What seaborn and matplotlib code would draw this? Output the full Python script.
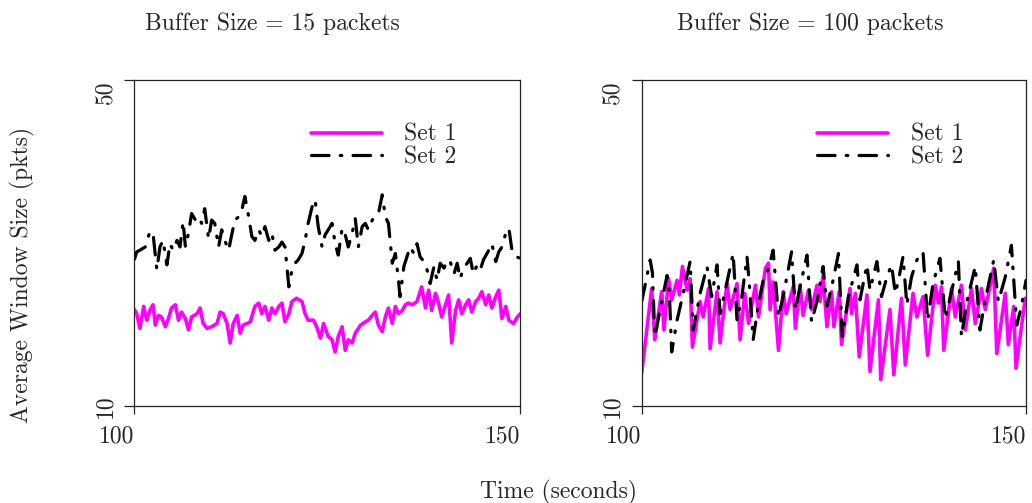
import numpy as np
import pandas as pd
import seaborn as sns
import matplotlib.pyplot as plt

sns.set_style("ticks")
plt.rcParams['font.family'] = ['cmr10', 'DejaVu Serif']
plt.rcParams['mathtext.fontset'] = 'cm'
plt.rcParams['axes.formatter.use_mathtext'] = True

# ---- Buffer size 15 packets ----
t_15_set1 = [100.0, 100.3, 100.7, 101.2, 101.6, 102.0, 102.4, 102.7, 103.1, 103.5, 104.0, 104.4, 104.8,
             105.3, 105.7, 106.1, 106.6, 107.0, 107.4, 108.1, 108.5, 108.9, 109.4, 110.0, 110.7, 111.1,
             111.5, 112.0, 112.4, 112.8, 113.3, 113.7, 114.1, 114.6, 115.0, 115.6, 116.1, 116.5, 116.9,
             117.4, 117.8, 118.2, 118.7, 119.1, 119.5, 120.0, 120.4, 121.0, 121.7, 122.1, 122.5, 123.2,
             123.6, 124.1, 124.5, 125.1, 125.6, 126.0, 126.4, 126.9, 127.3, 127.7, 128.2, 128.6, 129.3,
             129.9, 130.3, 130.8, 131.2, 131.6, 132.1, 132.5, 132.9, 133.4, 133.8, 134.2, 134.7, 135.1,
             135.5, 136.0, 136.6, 137.2, 137.7, 138.1, 138.5, 139.0, 139.4, 139.8, 140.3, 140.7, 141.1,
             141.6, 142.0, 142.4, 142.9, 143.3, 143.7, 144.2, 144.6, 145.0, 145.5, 145.9, 146.3, 146.8,
             147.2, 147.6, 148.1, 148.5, 149.1, 149.6, 150.0]
w_15_set1 = [21.8, 21.3, 19.5, 22.2, 20.5, 21.7, 22.4, 19.9, 21.1, 20.9, 19.7, 20.7, 22.0,
             22.4, 20.5, 21.5, 20.7, 19.3, 20.9, 21.3, 22.0, 20.1, 19.5, 19.7, 20.1, 21.5,
             21.3, 20.1, 17.7, 20.1, 21.1, 18.9, 19.9, 20.1, 20.3, 22.2, 22.6, 21.3, 22.2,
             20.5, 22.0, 21.3, 22.2, 22.6, 20.3, 21.3, 22.8, 23.2, 22.8, 21.3, 20.5, 20.5,
             19.7, 18.3, 20.1, 18.5, 18.1, 16.6, 18.5, 19.7, 16.8, 18.1, 17.7, 18.9, 19.9,
             20.3, 20.5, 21.1, 21.5, 19.9, 19.1, 20.9, 22.0, 20.1, 22.2, 21.3, 21.7, 22.4,
             22.6, 22.4, 22.8, 24.6, 22.0, 24.2, 21.7, 23.8, 22.6, 20.9, 22.4, 23.6, 17.7,
             21.7, 23.0, 21.3, 22.4, 23.0, 21.5, 22.8, 23.2, 24.0, 22.4, 23.6, 22.0, 23.4,
             24.2, 20.7, 22.2, 20.5, 20.1, 20.9, 21.3]

t_15_set2 = [100.0, 100.3, 100.7, 101.4, 102.0, 102.4, 102.9, 103.3, 103.7, 104.2, 104.6, 105.0, 105.5,
             105.9, 106.3, 106.6, 107.0, 107.4, 107.9, 108.3, 108.7, 109.1, 109.6, 110.0, 110.4, 110.9,
             111.3, 111.7, 112.2, 112.6, 113.0, 113.5, 113.9, 114.3, 114.8, 115.2, 115.6, 116.1, 116.5,
             116.9, 117.4, 117.8, 118.2, 118.7, 119.1, 119.5, 120.0, 120.4, 120.8, 121.2, 121.7, 122.1,
             122.5, 123.0, 123.4, 123.8, 124.3, 124.7, 125.1, 125.6, 126.0, 126.4, 126.9, 127.3, 127.7,
             128.2, 128.6, 129.0, 129.5, 129.9, 130.3, 130.8, 131.2, 131.6, 132.1, 132.5, 132.9, 133.4,
             133.8, 134.2, 134.4, 134.9, 135.3, 135.7, 136.2, 136.6, 137.0, 137.5, 137.9, 138.3, 138.8,
             139.2, 139.6, 140.1, 140.5, 140.9, 141.4, 141.8, 142.2, 142.6, 143.1, 143.5, 143.9, 144.4,
             144.8, 145.2, 145.9, 146.3, 146.8, 147.2, 147.6, 148.1, 148.5, 148.9, 149.4, 150.0]
w_15_set2 = [28.0, 28.9, 29.1, 29.5, 31.4, 31.2, 26.7, 29.5, 30.3, 27.3, 29.9, 29.1, 30.3,
             29.5, 32.6, 29.5, 31.2, 33.6, 32.8, 33.2, 32.4, 34.2, 30.5, 32.8, 32.4, 29.5,
             31.6, 30.3, 29.1, 31.0, 32.8, 33.2, 34.0, 35.7, 33.2, 30.8, 30.3, 31.6, 30.8,
             32.0, 30.3, 31.2, 29.1, 29.5, 30.1, 29.5, 24.6, 26.7, 27.5, 27.9, 28.7, 30.3,
             32.4, 34.4, 35.3, 32.0, 29.5, 31.0, 31.6, 32.4, 29.9, 28.5, 31.8, 31.0, 29.5,
             31.2, 33.0, 29.5, 32.0, 32.4, 31.6, 32.8, 33.2, 33.6, 35.9, 33.2, 32.4, 27.5,
             28.7, 25.4, 23.4, 27.1, 28.3, 29.5, 28.7, 29.9, 28.3, 27.7, 26.7, 25.0, 27.1,
             25.4, 27.5, 26.9, 27.9, 27.7, 26.2, 27.5, 25.6, 26.9, 27.5, 28.1, 26.2, 27.3,
             26.7, 27.9, 29.1, 29.9, 27.7, 28.9, 29.5, 31.2, 31.8, 29.1, 28.3, 28.1]

# ---- Buffer size 100 packets ----
t_100_set1 = [100.0, 101.3, 101.7, 102.6, 102.9, 103.5, 103.9, 104.6, 104.9, 105.3, 105.9, 106.3, 106.6,
              107.6, 108.0, 108.7, 108.9, 109.8, 110.2, 111.1, 111.5, 112.4, 112.8, 113.4, 113.9, 114.8,
              115.2, 116.1, 116.5, 116.7, 117.1, 117.8, 118.4, 118.8, 119.7, 120.0, 120.6, 121.0, 121.7,
              122.1, 122.8, 123.2, 123.6, 124.1, 124.7, 125.0, 125.7, 126.0, 127.1, 127.3, 127.8, 128.3,
              129.3, 129.7, 130.8, 131.1, 132.3, 132.8, 133.8, 134.3, 135.3, 135.8, 136.6, 137.2, 138.2,
              138.6, 139.0, 139.3, 140.3, 140.8, 141.6, 142.1, 142.9, 143.4, 144.2, 144.7, 145.8, 146.2,
              147.3, 147.7, 148.4, 148.7, 149.9]
w_100_set1 = [14.0, 24.4, 18.1, 24.0, 19.3, 25.6, 23.0, 25.4, 23.6, 27.1, 24.2, 25.6, 17.2,
              22.8, 20.9, 24.4, 17.0, 24.0, 17.7, 25.0, 21.8, 25.0, 18.1, 23.8, 20.1, 24.8,
              20.9, 26.9, 27.5, 21.8, 25.2, 16.8, 24.0, 21.3, 24.6, 19.5, 24.8, 21.1, 24.2,
              21.8, 24.8, 22.8, 26.0, 19.7, 24.0, 19.7, 24.0, 17.5, 24.4, 21.3, 23.8, 16.0,
              23.6, 14.2, 23.0, 13.2, 21.8, 13.8, 23.2, 15.0, 23.8, 20.9, 23.4, 16.2, 24.8,
              22.6, 24.6, 16.8, 24.4, 20.9, 24.8, 19.3, 24.4, 20.1, 24.4, 21.8, 26.9, 16.4,
              23.8, 17.5, 22.2, 14.6, 23.2]

t_100_set2 = [100.0, 100.4, 101.1, 101.4, 101.7, 102.4, 103.3, 103.6, 103.9, 104.6, 105.4, 106.3, 106.7,
              107.6, 108.5, 109.1, 109.8, 110.2, 111.1, 111.9, 112.4, 113.0, 113.7, 114.0, 114.5, 115.2,
              115.8, 116.5, 117.1, 117.8, 118.4, 119.5, 120.0, 120.6, 121.5, 122.1, 122.8, 123.6, 124.1,
              124.9, 125.6, 126.1, 126.9, 128.0, 128.4, 129.3, 129.7, 130.6, 131.2, 131.9, 132.5, 133.0,
              133.4, 134.0, 134.5, 135.1, 135.8, 136.6, 137.2, 137.9, 138.8, 139.5, 140.3, 141.2, 141.6,
              142.3, 143.4, 144.0, 144.7, 145.8, 146.4, 147.3, 148.1, 148.8, 149.4, 150.0]
w_100_set2 = [22.8, 24.6, 27.9, 26.3, 18.5, 21.8, 26.0, 23.8, 16.6, 20.5, 23.8, 27.7, 19.3,
              23.8, 27.1, 23.4, 27.3, 21.3, 25.2, 28.7, 20.5, 23.2, 28.3, 25.0, 18.1, 22.6,
              25.4, 26.9, 29.1, 20.9, 23.4, 28.9, 21.8, 24.6, 28.5, 20.3, 22.8, 27.1, 22.2,
              25.4, 28.7, 18.5, 23.4, 27.3, 23.0, 27.3, 24.2, 27.7, 23.4, 25.8, 27.3, 23.8,
              25.4, 28.3, 22.4, 25.8, 27.9, 28.9, 20.5, 25.0, 28.1, 20.7, 24.0, 27.7, 18.5,
              22.8, 27.1, 19.3, 23.0, 27.9, 22.8, 25.8, 29.7, 19.9, 22.2, 25.4]

panels = [
    ("Buffer Size = 15 packets", t_15_set1, w_15_set1, t_15_set2, w_15_set2),
    ("Buffer Size = 100 packets", t_100_set1, w_100_set1, t_100_set2, w_100_set2),
]

x_ticks = [100, 150]
y_ticks = [10, 50]
FS = 17

fig = plt.figure(figsize=(10.32, 5.03), dpi=100)
axes_rects = [[0.1303, 0.1934, 0.3740, 0.6475],
              [0.6218, 0.1934, 0.3724, 0.6475]]
title_x = [272 / 1032, 810 / 1032]

for rect, tx, (title, ta, wa, tb, wb) in zip(axes_rects, title_x, panels):
    ax = fig.add_axes(rect)
    df1 = pd.DataFrame({"Time": ta, "Window": wa})
    df2 = pd.DataFrame({"Time": tb, "Window": wb})
    sns.lineplot(data=df1, x="Time", y="Window", ax=ax, color="#ff00ff",
                 lw=2.6, label="Set 1", solid_joinstyle="round")
    sns.lineplot(data=df2, x="Time", y="Window", ax=ax, color="black",
                 lw=2.3, label="Set 2", linestyle=(0, (5.5, 3.5, 0.5, 3.5)),
                 dash_capstyle="round")
    ax.set_xlim(100, 150)
    ax.set_ylim(10, 50)
    ax.set_xticks(x_ticks)
    ax.set_yticks(y_ticks)
    ax.set_xticklabels([str(v) for v in x_ticks], fontsize=FS, ha="right")
    ax.set_yticklabels([str(v) for v in y_ticks], fontsize=FS, rotation=90)
    ylabs = ax.get_yticklabels()
    ylabs[0].set_va("center")
    ylabs[1].set_va("top")
    ax.tick_params(axis="y", length=7, width=0.9, pad=6, direction="out")
    ax.tick_params(axis="x", length=6, width=0.9, pad=8, direction="out")
    ax.set_xlabel("")
    ax.set_ylabel("")
    for s in ax.spines.values():
        s.set_visible(True)
        s.set_linewidth(0.9)
        s.set_color("#222222")
    ax.legend(loc="upper left", bbox_to_anchor=(0.457, 0.866), frameon=False,
              fontsize=FS, handlelength=3.0, handletextpad=0.95,
              labelspacing=0.03, borderpad=0, borderaxespad=0)
    fig.text(tx, 1 - 30 / 503, title, ha="center", va="baseline", fontsize=FS)

fig.text(22 / 1032, 1 - 275 / 503, "Average Window Size (pkts)", rotation=90,
         ha="center", va="center", fontsize=FS)
fig.text(558 / 1032, 1 - 492 / 503, "Time (seconds)", ha="center", va="center", fontsize=FS)

fig.savefig("out.png", dpi=100)
